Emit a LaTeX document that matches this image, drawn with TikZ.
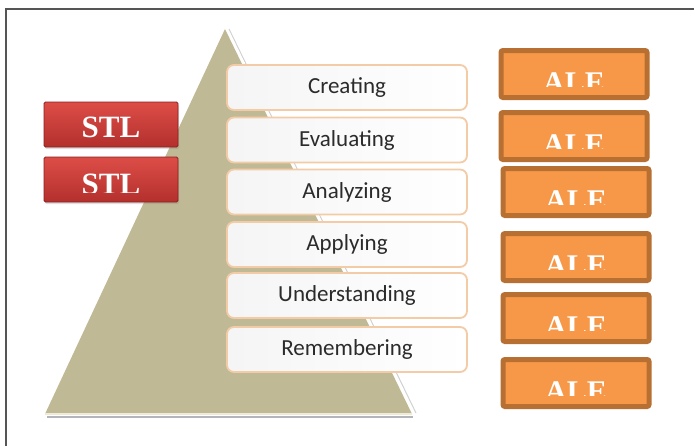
\documentclass[tikz,border=0pt]{standalone}
\usepackage{fontspec}
\setmainfont{Liberation Serif}
\newfontfamily\bloomfont{Carlito}
\usetikzlibrary{shadows}

\definecolor{khaki}{HTML}{C0B995}
\definecolor{khakilight}{HTML}{EFEAD6}
\definecolor{baseshadow}{HTML}{B4B4BC}
\definecolor{bloomedge}{HTML}{F3CBA6}
\definecolor{bloomtext}{HTML}{2B2B2B}
\definecolor{alefill}{HTML}{F69847}
\definecolor{aleedge}{HTML}{B86F32}
\definecolor{stltop}{HTML}{DD4D47}
\definecolor{stlbot}{HTML}{B3302D}
\definecolor{stledge}{HTML}{8A2020}
\definecolor{framegray}{HTML}{555555}

\tikzset{
  bloom/.style={draw=bloomedge, line width=1.8pt, rounded corners=7pt,
    left color=black!4, right color=white,
    minimum width=240pt, minimum height=45pt, inner sep=0pt,
    text=bloomtext, font=\bloomfont\fontsize{23}{26}\selectfont},
  alebox/.style={draw=aleedge, line width=5pt, fill=alefill, rounded corners=2pt,
    minimum width=146pt, minimum height=47pt, inner sep=0pt},
  aletext/.style={text=white, inner sep=0pt,
    font=\bfseries\fontsize{30}{32}\selectfont},
  stlbox/.style={draw=stledge, line width=0.8pt, top color=stltop, bottom color=stlbot,
    rounded corners=1.5pt, minimum width=134pt, minimum height=45pt, inner sep=0pt,
    drop shadow={shadow xshift=1pt, shadow yshift=-2pt, opacity=0.25}},
  stltext/.style={text=white, inner sep=0pt,
    font=\bfseries\fontsize{31}{33}\selectfont},
}

\begin{document}
\begin{tikzpicture}[x=1pt, y=-1pt]
  \useasboundingbox (0,0) rectangle (694,445);
  \fill[white] (0,0) rectangle (694,445);

  % outer frame
  \draw[framegray, line width=1.5pt] (6,446) -- (6,9) -- (695,9);

  % pyramid
  \draw[baseshadow, line width=2.5pt] (47,417) -- (413,417);
  \fill[khaki] (225,29) -- (412,414) -- (45,414) -- cycle;
  \draw[black!18, line width=1pt] (229,29) -- (416,413);
  \draw[white, line width=2pt] (227,29) -- (414,414);
  \draw[khakilight, line width=1.5pt] (45,414) -- (412,414);

  % levels of the taxonomy
  \node[bloom] (creating)      at (347,87.5)  {Creating};
  \node[bloom] (evaluating)    at (347,140)   {Evaluating};
  \node[bloom] (analyzing)     at (347,192)   {Analyzing};
  \node[bloom] (applying)      at (347,244.5) {Applying};
  \node[bloom] (understanding) at (347,295.5) {Understanding};
  \node[bloom] (remembering)   at (347,349.5) {Remembering};

  % STL buttons
  \node[stlbox] (stl1) at (111,124.5) {};
  \node[stltext, anchor=base] (stltxt1) at (111,137) {STL};
  \node[stlbox] (stl2) at (111,179.5) {};
  \begin{scope}
    \clip (50,160) rectangle (172,192);
    \node[stltext, anchor=base] (stltxt2) at (111,194) {STL};
  \end{scope}

  % ALE boxes
  \foreach \n/\cx/\ty in {1/574/48, 2/574/110, 3/576/166, 4/576/231, 5/576/292, 6/576/357} {
    \node[alebox] (ale\n) at (\cx,\ty+26) {};
    \begin{scope}
      \clip (\cx-70,\ty+6) rectangle (\cx+70,\ty+38);
      \node[aletext, anchor=base] (aletxt\n) at (\cx,\ty+44) {ALE};
    \end{scope}
  }
\end{tikzpicture}
\end{document}
